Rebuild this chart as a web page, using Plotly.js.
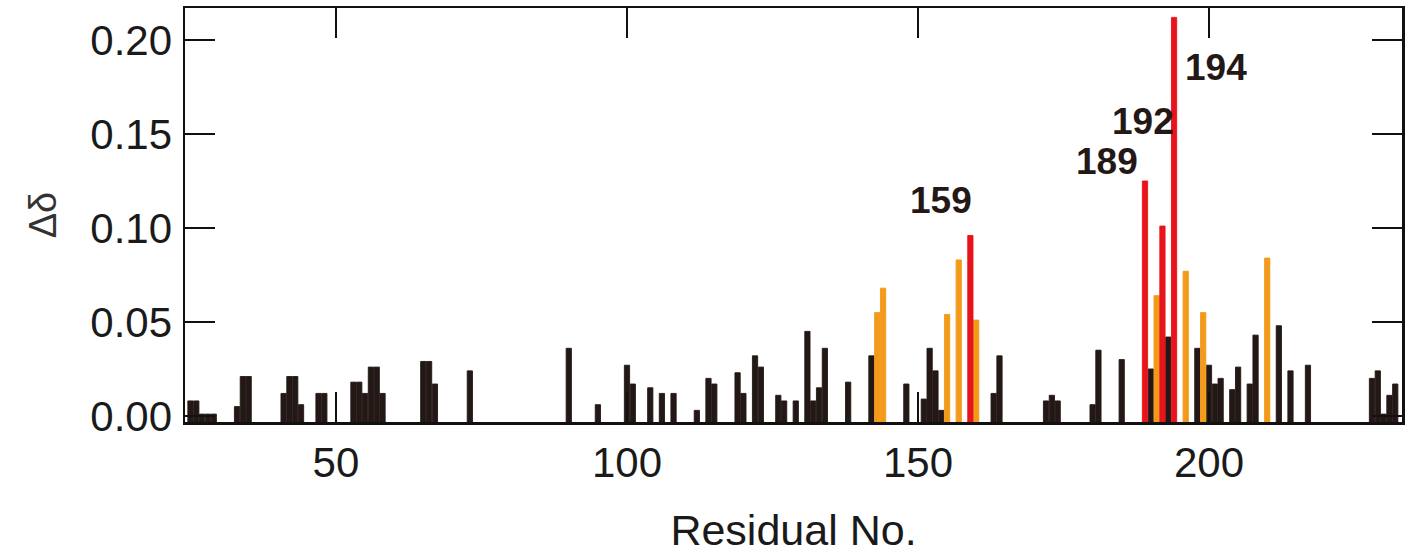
<!DOCTYPE html>
<html>
<head>
<meta charset="utf-8">
<script src="https://cdn.plot.ly/plotly-3.0.1.min.js"></script>
<style>html,body{margin:0;padding:0;background:#fff;}#chart{width:1414px;height:554px;}</style>
</head>
<body>
<div id="chart"></div>
<script>
// Residues with small shifts (black)
const blackResidues = [25,26,27,28,29,33,34,35,41,42,43,44,47,48,53,54,55,56,57,58,65,66,67,73,90,95,100,101,104,106,108,112,114,115,119,120,122,123,126,127,129,131,132,133,134,138,142,148,151,152,153,154,163,164,172,173,174,180,181,185,190,193,198,200,201,202,204,205,207,208,212,214,217,228,229,230,231,232];
const blackValues   = [0.008,0.008,0.001,0.001,0.001,0.005,0.021,0.021,0.012,0.021,0.021,0.006,0.012,0.012,0.018,0.018,0.012,0.026,0.026,0.012,0.029,0.029,0.017,0.024,0.036,0.006,0.027,0.017,0.015,0.012,0.012,0.003,0.020,0.017,0.023,0.012,0.032,0.026,0.011,0.008,0.008,0.045,0.008,0.015,0.036,0.018,0.032,0.017,0.009,0.036,0.024,0.003,0.012,0.032,0.008,0.011,0.008,0.006,0.035,0.030,0.025,0.042,0.036,0.027,0.017,0.020,0.014,0.026,0.017,0.043,0.048,0.024,0.027,0.020,0.024,0.001,0.011,0.017];
// Medium shifts (orange)
const orangeResidues = [143,144,155,157,160,191,196,199,210];
const orangeValues   = [0.055,0.068,0.054,0.083,0.051,0.064,0.077,0.055,0.084];
// Large shifts (red)
const redResidues = [159,189,192,194];
const redValues   = [0.096,0.125,0.101,0.212];
// Labelled residues
const labelResidues = ["159","189","192","194"];
// Axis ticks
const xTicks = [50,100,150,200];
const yTicks = [0.00,0.05,0.10,0.15,0.20];

const Y_MIN = -0.0032, Y_MAX = 0.217;
const X_MIN = 24.06, X_MAX = 233.16;
const BAR_W = 0.9;

// bars drawn from the axis bottom (Y_MIN) so they touch the axis line; top = value
function barTrace(x, y, color){
  return {type:'bar', x:x, y:y.map(v=>v - Y_MIN), base:Y_MIN, width:BAR_W,
    marker:{color:color, line:{width:0.9, color:color}}, hoverinfo:'x', showlegend:false};
}

const traces = [
  barTrace(blackResidues, blackValues, '#231815'),
  barTrace(orangeResidues, orangeValues, '#F39A1A'),
  barTrace(redResidues, redValues, '#E8141B')
];

const labelPos = [[153.95,0.1145],[182.4,0.1356],[188.6,0.1566],[201.2,0.1854]];
const annotations = labelResidues.map((t,i)=>({
  x:labelPos[i][0], y:labelPos[i][1], xref:'x', yref:'y', text:t, showarrow:false,
  xanchor:'center', yanchor:'middle',
  font:{family:'Liberation Sans, Arial, sans-serif', size:37, color:'#231815', weight:'bold'}
}));

const tickFont = {family:'Liberation Sans, Arial, sans-serif', size:42, color:'#1a1a1a'};
const layout = {
  width:1414, height:554,
  margin:{l:185, r:12, t:8, b:132},
  paper_bgcolor:'#fff', plot_bgcolor:'#fff',
  barmode:'overlay',
  xaxis:{range:[X_MIN,X_MAX], tickvals:xTicks, ticktext:xTicks.map(String),
    ticks:'inside', ticklen:30, tickwidth:2.5, tickcolor:'#111',
    showline:true, linewidth:2.5, linecolor:'#111', mirror:'ticks',
    showgrid:false, zeroline:false, tickfont:tickFont, ticklabelstandoff:2,
    title:{text:'Residual No.', font:{family:'Liberation Sans, Arial, sans-serif', size:43, color:'#1a1a1a'}, standoff:50},
    automargin:false},
  yaxis:{range:[Y_MIN, Y_MAX], tickvals:yTicks, ticktext:yTicks.map(v=>v.toFixed(2)),
    ticks:'inside', ticklen:30, tickwidth:2.5, tickcolor:'#111',
    showline:true, linewidth:2.5, linecolor:'#111', mirror:'ticks',
    showgrid:false, zeroline:false, tickfont:tickFont, ticklabelstandoff:2,
    title:{text:'Δδ', font:{family:'Liberation Sans, Arial, sans-serif', size:38, color:'#333'}, standoff:22},
    automargin:false},
  annotations:annotations
};
Plotly.newPlot('chart', traces, layout, {displayModeBar:false, staticPlot:true});
</script>
</body>
</html>
